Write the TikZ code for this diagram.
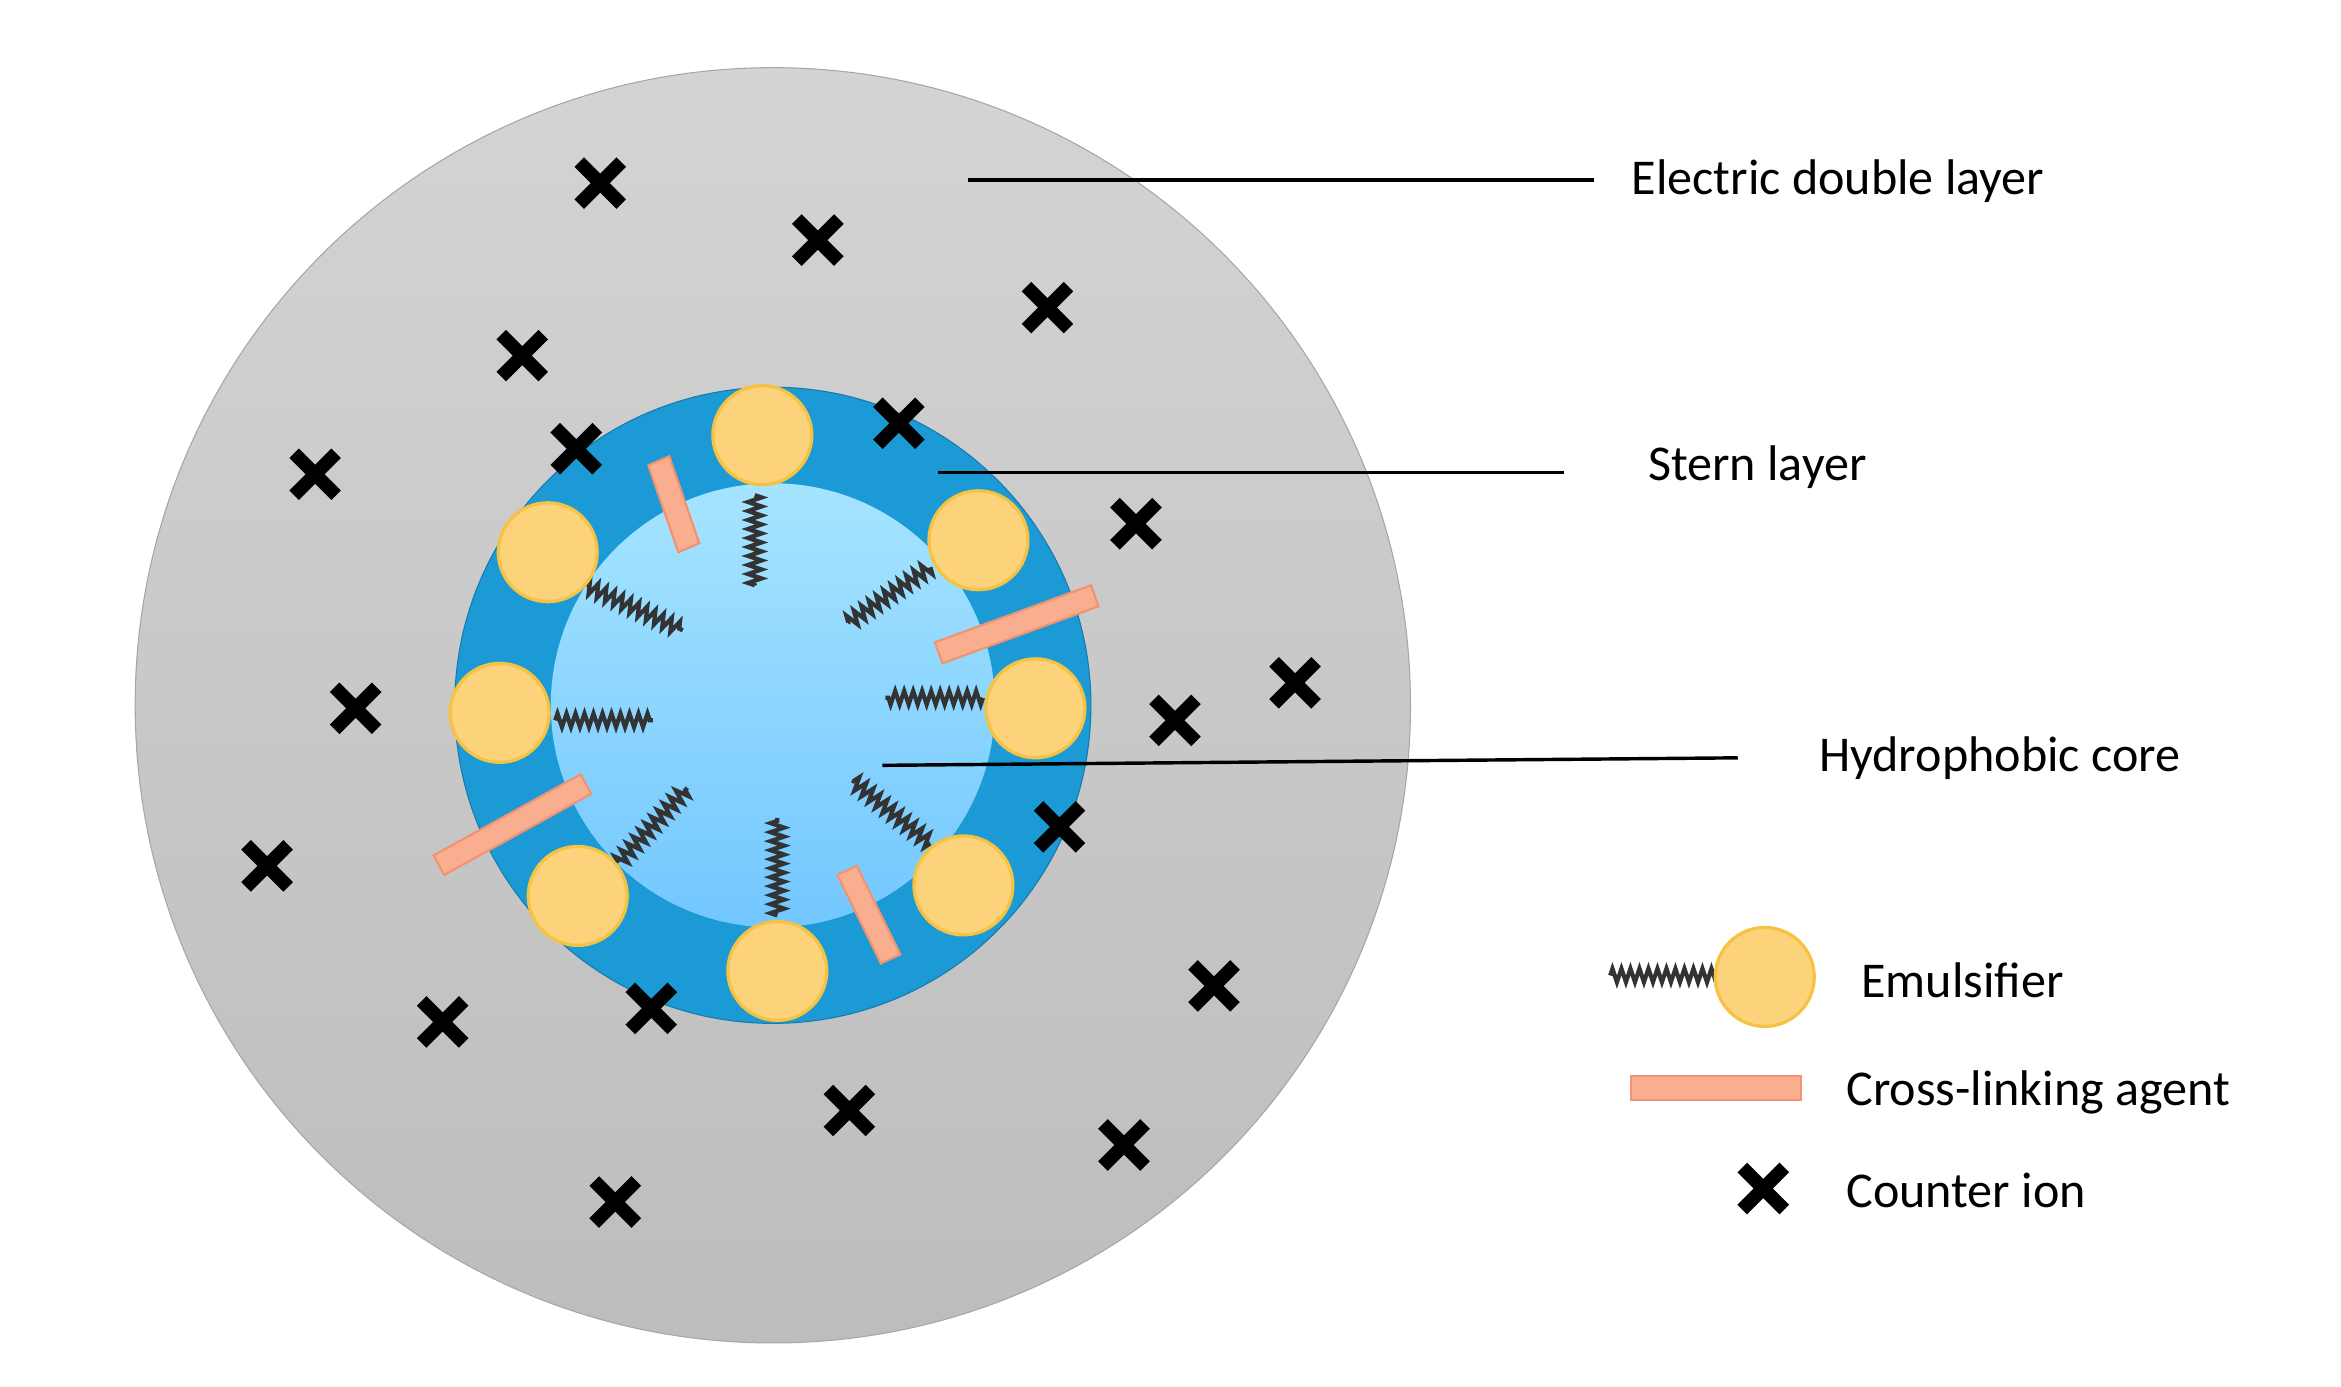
\documentclass[tikz,border=0pt]{standalone}
\usepackage{fontspec}
\setmainfont{Carlito}
\usetikzlibrary{decorations.pathmorphing}
\definecolor{stern}{HTML}{1B9AD6}
\definecolor{yel}{HTML}{FCD27A}
\definecolor{yelb}{HTML}{F5C242}
\definecolor{salm}{HTML}{F9AE90}
\definecolor{salmb}{HTML}{F29271}
\tikzset{
 emu/.style={circle,minimum size=1.32cm,inner sep=0,fill=yel,draw=yelb,line width=1.2pt},
 spring/.style={draw=black!80,line width=1.6pt,decorate,decoration={zigzag,segment length=0.12cm,amplitude=0.09cm}},
 ion/.style={line width=0.18cm,black},
 link/.style={fill=salm,draw=salmb,line width=0.8pt},
 lbl/.style={anchor=west,font=\fontsize{19}{22}\selectfont,inner sep=0},
 lead/.style={line width=1.3pt,black}
}
\newcommand{\ion}[2]{\draw[ion] (#1-16,#2-16)--(#1+16,#2+16) (#1-16,#2+16)--(#1+16,#2-16);}
\newcommand{\lnk}[4]{\path[link] let \p1=(#3-#1,#4-#2), \n1={atan2(\y1,\x1)} in [rotate around={\n1:(#1,#2)}] (#1,#2-7) rectangle ++({veclen(\x1,\y1)*50},14);}
\begin{document}
\begin{tikzpicture}[x=0.02cm,y=-0.02cm]
\useasboundingbox (0,0) rectangle (1560,924);
\node[circle,minimum size=17cm,inner sep=0,draw=black!35,top color=black!17,bottom color=black!26] (edl) at (515,470) {};
\node[circle,minimum size=8.48cm,inner sep=0,fill=stern,draw=stern!80!black] (st) at (515,470) {};
\node[circle,minimum size=5.92cm,inner sep=0,top color=blue!30!cyan!35!white,bottom color=blue!40!cyan!55!white] (core) at (515,470) {};
% springs
\draw[spring] (503,330)--(503,390);
\draw[spring] (390,390)--(455,420);
\draw[spring] (620,378)--(565,415);
\draw[spring] (370,480)--(435,480);
\draw[spring] (655,465)--(590,465);
\draw[spring] (412,575)--(458,525);
\draw[spring] (518,610)--(518,545);
\draw[spring] (620,562)--(568,520);
% emulsifier heads
\node[emu] (e1) at (508,290) {};
\node[emu] (e2) at (365,368) {};
\node[emu] (e3) at (652,360) {};
\node[emu] (e4) at (333,475) {};
\node[emu] (e5) at (690,472) {};
\node[emu] (e6) at (385,597) {};
\node[emu] (e7) at (642,590) {};
\node[emu] (e8) at (518,647) {};
% cross-linking agents
\path[link] (432,310)--(446,304)--(466,362)--(452,368)--cycle;
\path[link] (623,428)--(727,390)--(732,404)--(628,442)--cycle;
\path[link] (289,570)--(387,516)--(394,529)--(296,583)--cycle;
\path[link] (558,583)--(571,577)--(600,636)--(587,642)--cycle;
% counter ions
\foreach \x/\y in {400/122,545/160,698/205,348/237,599/282,384/299,210/316,757/349,863/455,237/472,783/480,706/551,178/577,809/657,295/681,434/672,566/740,749/763,410/801,1175/792}
 {\draw[ion] (\x-14,\y-14)--(\x+14,\y+14) (\x-14,\y+14)--(\x+14,\y-14);}
% leaders
\coordinate (a1) at (645,120); \coordinate (a2) at (625,315); \coordinate (a3) at (588,510);
\node[lbl] (t1) at (1087,121) {Electric double layer};
\node[lbl] (t2) at (1098,311) {Stern layer};
\node[lbl] (t3) at (1212,505) {Hydrophobic core};
\draw[lead] (a1)--(1062,120);
\draw[lead] (a2)--(1042,315);
\draw[lead] (a3)--(1158,505);
% legend
\draw[spring] (1073,650)--(1145,650);
\node[emu] (le) at (1176,651) {};
\node[lbl] (l1) at (1240,653) {Emulsifier};
\path[link] (1087,717) rectangle (1200,733);
\node[lbl] (l2) at (1230,728) {Cross-linking agent};
\node[lbl] (l3) at (1230,793) {Counter ion};
\end{tikzpicture}
\end{document}
